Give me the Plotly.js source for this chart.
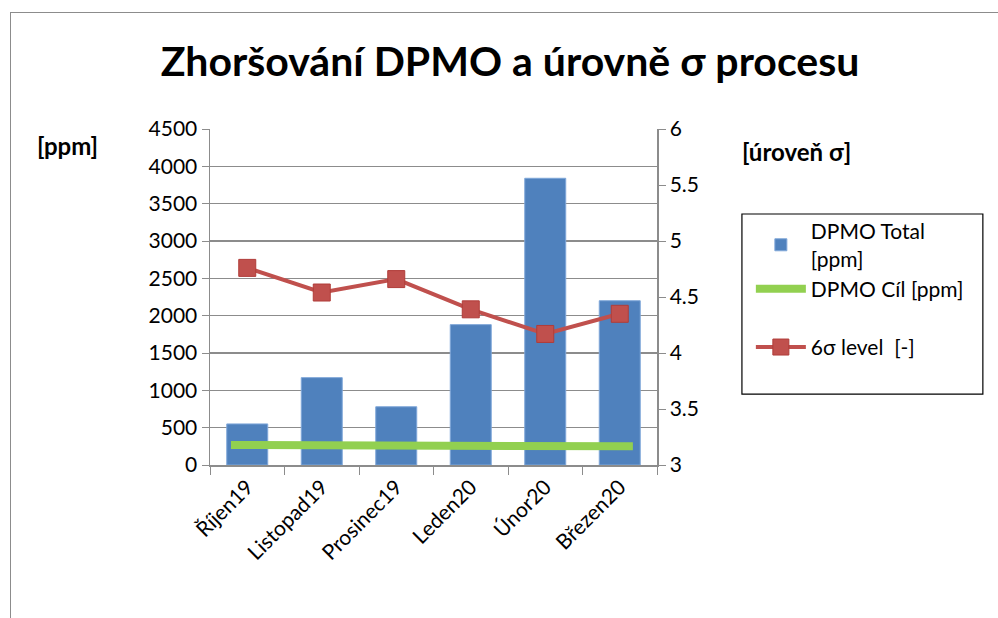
<!DOCTYPE html>
<html><head><meta charset="utf-8">
<script src="https://cdn.plot.ly/plotly-3.0.1.min.js"></script>
<style>
html,body{margin:0;padding:0;background:#fff;}
#wrap{position:relative;width:998px;height:618px;}
#chart{width:998px;height:618px;}
#frame{position:absolute;left:10px;top:12px;width:995px;height:620px;border:1.5px solid #8c8c8c;pointer-events:none;}
</style></head>
<body>
<div id="wrap"><div id="chart"></div><div id="frame"></div></div>
<script>
const categories = ["Říjen19","Listopad19","Prosinec19","Leden20","Únor20","Březen20"];
const dpmoTotal = [550, 1170, 780, 1880, 3840, 2200];
const dpmoCil = [268, 265, 262, 258, 254, 250];
const sigmaLevel = [4.76, 4.54, 4.66, 4.39, 4.17, 4.35];
const leftTicks = [0,500,1000,1500,2000,2500,3000,3500,4000,4500];
const rightTicks = [3,3.5,4,4.5,5,5.5,6];

const FONT = "Lato, 'Open Sans', sans-serif";
const traces = [
  {type:"bar", x:categories, y:dpmoTotal, name:"DPMO Total<br>[ppm]", legendgroup:"a",
   marker:{color:"#4f81bd", line:{color:"#7fa7d9", width:1}}},
  {type:"scatter", mode:"lines", x:categories, y:dpmoCil, name:"DPMO Cíl [ppm]", legendgroup:"a",
   xaxis:"x2", line:{color:"#92d050", width:8}},
  {type:"scatter", mode:"lines+markers", x:categories, y:sigmaLevel, name:"6σ level  [-]", legendgroup:"b",
   yaxis:"y2", line:{color:"#c0504d", width:4},
   marker:{symbol:"square", size:17, color:"#c0504d", line:{color:"#b03c39", width:1}}}
];
const layout = {
  width:998, height:618,
  margin:{l:210, r:341, t:129, b:153},
  paper_bgcolor:"#fff", plot_bgcolor:"#fff",
  font:{family:FONT, size:21, color:"#000"},
  title:{text:"<b>Zhoršování DPMO a úrovně σ procesu</b>", font:{family:FONT, size:41, color:"#000"},
         x:0.511, xref:"container", xanchor:"center", y:0.9, yref:"container", yanchor:"middle"},
  bargap:0.45,
  showlegend:true,
  legend:{x:1.21, xanchor:"left", y:0.756, yanchor:"top", borderwidth:0,
          bgcolor:"rgba(0,0,0,0)", font:{family:FONT, size:21, color:"#000"}, tracegroupgap:28,
          traceorder:"grouped", itemwidth:50},
  shapes:[
    {type:"rect", xref:"paper", yref:"paper", x0:1.19, x1:1.729, y0:0.211, y1:0.747,
     line:{color:"#000", width:1.2}, fillcolor:"rgba(0,0,0,0)", layer:"below"}
  ],
  xaxis:{type:"category", showline:true, linecolor:"#8c8c8c", linewidth:1.5, ticks:"outside",
         tickson:"boundaries", ticklen:8, tickcolor:"#8c8c8c", tickangle:-45, showgrid:false,
         tickfont:{family:FONT, size:21}},
  xaxis2:{type:"category", overlaying:"x", visible:false, range:[-0.261, 5.30]},
  yaxis:{range:[0,4500], tickvals:leftTicks, showline:true, linecolor:"#8c8c8c", linewidth:1.5,
         ticks:"outside", ticklen:7, tickcolor:"#8c8c8c", gridcolor:"#8c8c8c", gridwidth:1.3,
         zeroline:false, tickfont:{family:FONT, size:21}},
  yaxis2:{range:[3,6], tickvals:rightTicks, overlaying:"y", side:"right", showline:true,
          linecolor:"#8c8c8c", linewidth:1.5, ticks:"outside", ticklen:7, tickcolor:"#8c8c8c",
          showgrid:false, zeroline:false, tickfont:{family:FONT, size:21}},
  annotations:[
    {text:"<b>[ppm]</b>", xref:"paper", yref:"paper", x:-0.3915, y:0.95, xanchor:"left", yanchor:"middle",
     showarrow:false, font:{family:FONT, size:24}},
    {text:"<b>[úroveň σ]</b>", xref:"paper", yref:"paper", x:1.185, y:0.932, xanchor:"left", yanchor:"middle",
     showarrow:false, font:{family:FONT, size:24}}
  ]
};
Plotly.newPlot("chart", traces, layout, {displayModeBar:false, staticPlot:true});
</script>
</body></html>
